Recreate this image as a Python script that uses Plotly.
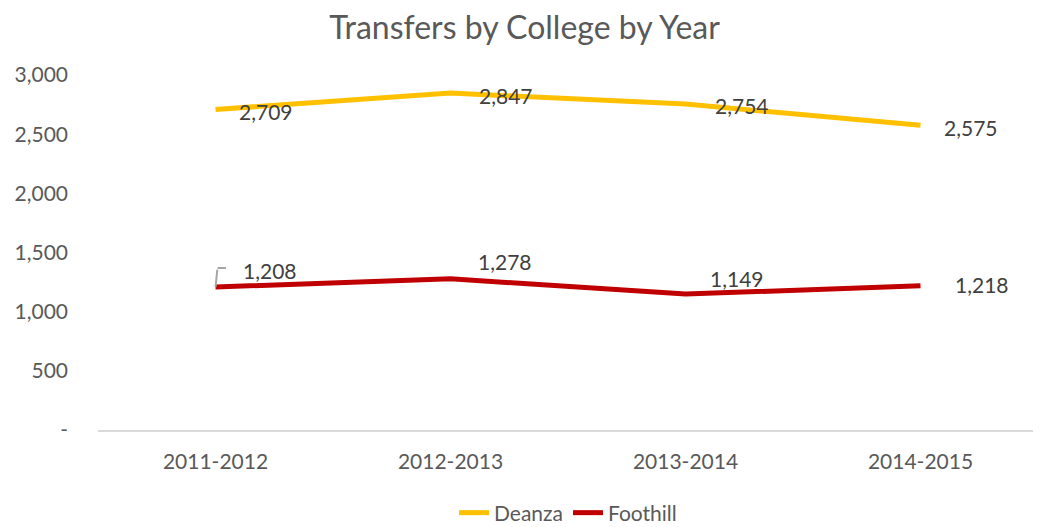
import plotly.graph_objects as go

years = ["2011-2012", "2012-2013", "2013-2014", "2014-2015"]
deanza = [2709, 2847, 2754, 2575]
foothill = [1208, 1278, 1149, 1218]
y_ticks = [0, 500, 1000, 1500, 2000, 2500, 3000]
y_tick_text = ["-", "500", "1,000", "1,500", "2,000", "2,500", "3,000"]

FONT = "Lato"
x_idx = list(range(len(years)))

# page body adds an 8px margin; size the figure so it lands where the reference does
W, H = 1033, 519

fig = go.Figure()
fig.add_trace(go.Scatter(x=x_idx, y=deanza, mode="lines", name="Deanza",
                         line=dict(color="#FFC000", width=5)))
fig.add_trace(go.Scatter(x=x_idx, y=foothill, mode="lines", name="Foothill",
                         line=dict(color="#C00000", width=5)))

# data labels
d_off = [(50, -2), (55, -2), (56, -1), (50, -2)]
for i, v in enumerate(deanza):
    fig.add_annotation(x=i, y=v, text=f"{v:,}", showarrow=False,
                       xshift=d_off[i][0], yshift=d_off[i][1],
                       font=dict(family=FONT, size=21, color="#404040"))
f_off = [(54, 17), (54, 17), (51, 16), (61, 1)]
for i, v in enumerate(foothill):
    fig.add_annotation(x=i, y=v, text=f"{v:,}", showarrow=False,
                       xshift=f_off[i][0], yshift=f_off[i][1],
                       font=dict(family=FONT, size=21, color="#404040"))
# leader line (elbow) for first Foothill label
fig.add_annotation(x=0, y=foothill[0], ax=2, ay=-19, axref="pixel", ayref="pixel",
                   text="", showarrow=True, arrowhead=0, arrowwidth=2,
                   arrowcolor="#A6A6A6", standoff=0, startstandoff=0)
fig.add_annotation(x=0, y=foothill[0], xshift=2, yshift=19, ax=10, ay=0,
                   axref="pixel", ayref="pixel",
                   text="", showarrow=True, arrowhead=0, arrowwidth=2,
                   arrowcolor="#A6A6A6", standoff=0, startstandoff=0)

fig.update_layout(
    width=W, height=H,
    margin=dict(l=90, r=3, t=67, b=97, autoexpand=False),
    paper_bgcolor="white", plot_bgcolor="white",
    title=dict(text="Transfers by College by Year", x=0.5, xanchor="center",
               y=1 - 20 / H, yref="container", yanchor="middle",
               font=dict(family=FONT, size=32, color="#595959")),
    showlegend=True,
    legend=dict(orientation="h", x=0.5, xanchor="center", y=14 / H,
                yref="container", yanchor="middle",
                font=dict(family=FONT, size=21, color="#595959"),
                tracegroupgap=0),
    xaxis=dict(tickmode="array", tickvals=x_idx, ticktext=years,
               range=[-0.5, 3.5], showgrid=False, zeroline=False,
               showline=True, linecolor="#D9D9D9", linewidth=1.5,
               ticks="", ticklabelstandoff=12,
               tickfont=dict(family=FONT, size=21, color="#595959")),
    yaxis=dict(tickmode="array", tickvals=y_ticks, ticktext=y_tick_text,
               range=[0, 3000], showgrid=False, zeroline=False, showline=False,
               ticks="", ticklabelstandoff=29,
               tickfont=dict(family=FONT, size=21, color="#595959")),
)

fig.write_html("out.html")
